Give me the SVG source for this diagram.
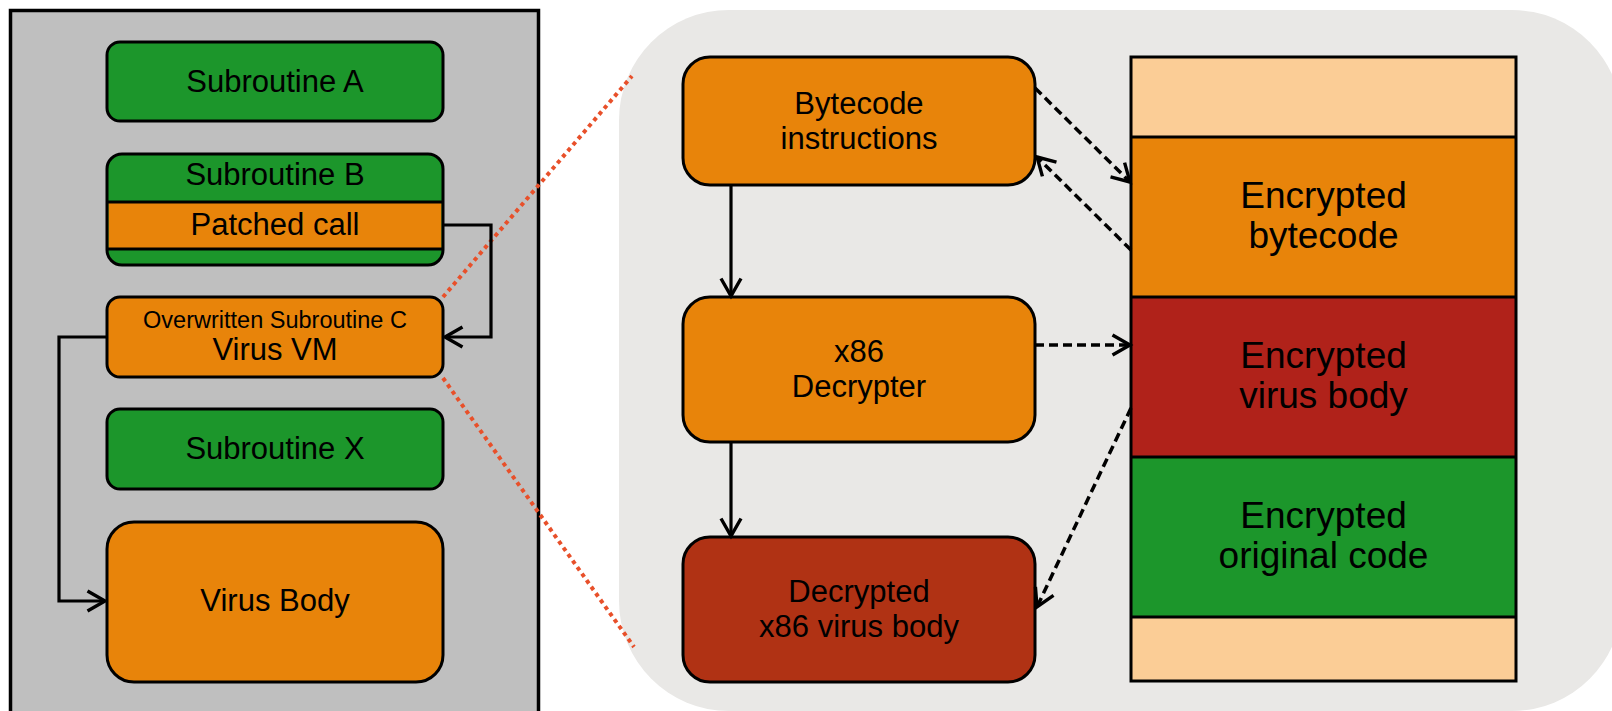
<svg xmlns="http://www.w3.org/2000/svg" width="1612" height="711" viewBox="0 0 1612 711">
<style>
  text { font-family: "Liberation Sans", Arial, sans-serif; fill: #000; text-anchor: middle; }
  .t31 { font-size: 31px; }
  .t37 { font-size: 37px; }
  .t24 { font-size: 23.5px; }
  .box { stroke: #000; stroke-width: 3; }
  .green { fill: #1c962b; }
  .orange { fill: #e8840a; }
  .red { fill: #b0221a; }
  .dred { fill: #b03214; }
  .peach { fill: #fbcd96; }
  .solid { fill: none; stroke: #000; stroke-width: 3.2; }
  .dash { fill: none; stroke: #000; stroke-width: 3.5; stroke-dasharray: 9 5; }
  .dot { fill: none; stroke: #e8502a; stroke-width: 4; stroke-dasharray: 4 4; }
</style>
<defs>
  <marker id="arr" markerUnits="userSpaceOnUse" markerWidth="24" markerHeight="26" refX="19" refY="12" orient="auto">
    <path d="M1.5,2 L19,12 L1.5,22" fill="none" stroke="#000" stroke-width="3.4"/>
  </marker>
</defs>

<g id="left-panel">
  <rect x="10.5" y="10.5" width="528" height="720" fill="#bfbfbf" stroke="#000" stroke-width="3.5"/>
</g>
<g id="right-panel">
  <rect x="619" y="10" width="1003" height="701" rx="110" ry="110" fill="#e9e8e6"/>
</g>

<g id="zoom-lines">
  <line class="dot" x1="443" y1="297" x2="632" y2="76"/>
  <line class="dot" x1="443" y1="378" x2="634" y2="647"/>
</g>

<g id="subroutine-a">
  <rect class="box green" x="107" y="42" width="336" height="79" rx="13"/>
  <text class="t31" x="275" y="92">Subroutine A</text>
</g>
<g id="subroutine-b">
  <rect class="green" x="107" y="154" width="336" height="111" rx="15"/>
  <rect class="orange" x="108.5" y="202" width="333" height="47"/>
  <line x1="107" y1="202" x2="443" y2="202" stroke="#000" stroke-width="3"/>
  <line x1="107" y1="249" x2="443" y2="249" stroke="#000" stroke-width="3"/>
  <rect x="107" y="154" width="336" height="111" rx="15" fill="none" stroke="#000" stroke-width="3"/>
  <text class="t31" x="275" y="185">Subroutine B</text>
  <text class="t31" x="275" y="235">Patched call</text>
</g>
<g id="virus-vm">
  <rect class="box orange" x="107" y="297" width="336" height="80" rx="13"/>
  <text class="t24" x="275" y="328">Overwritten Subroutine C</text>
  <text class="t31" x="275" y="360">Virus VM</text>
</g>
<g id="subroutine-x">
  <rect class="box green" x="107" y="409" width="336" height="80" rx="13"/>
  <text class="t31" x="275" y="459">Subroutine X</text>
</g>
<g id="virus-body">
  <rect class="box orange" x="107" y="522" width="336" height="160" rx="27"/>
  <text class="t31" x="275" y="611">Virus Body</text>
</g>

<g id="bytecode-instructions">
  <rect class="box orange" x="683" y="57" width="352" height="128" rx="27"/>
  <text class="t31" x="859" y="114">Bytecode</text>
  <text class="t31" x="859" y="149">instructions</text>
</g>
<g id="x86-decrypter">
  <rect class="box orange" x="683" y="297" width="352" height="145" rx="27"/>
  <text class="t31" x="859" y="362">x86</text>
  <text class="t31" x="859" y="397">Decrypter</text>
</g>
<g id="decrypted-body">
  <rect class="box dred" x="683" y="537" width="352" height="145" rx="27"/>
  <text class="t31" x="859" y="602">Decrypted</text>
  <text class="t31" x="859" y="637">x86 virus body</text>
</g>

<g id="memory-stack">
  <rect class="peach" x="1131" y="57" width="385" height="80"/>
  <rect class="orange" x="1131" y="137" width="385" height="160"/>
  <rect class="red" x="1131" y="297" width="385" height="160"/>
  <rect class="green" x="1131" y="457" width="385" height="160"/>
  <rect class="peach" x="1131" y="617" width="385" height="64"/>
  <g stroke="#000" stroke-width="3">
    <line x1="1131" y1="137" x2="1516" y2="137"/>
    <line x1="1131" y1="297" x2="1516" y2="297"/>
    <line x1="1131" y1="457" x2="1516" y2="457"/>
    <line x1="1131" y1="617" x2="1516" y2="617"/>
  </g>
  <rect x="1131" y="57" width="385" height="624" fill="none" stroke="#000" stroke-width="3"/>
  <text class="t37" x="1323.5" y="208">Encrypted</text>
  <text class="t37" x="1323.5" y="248">bytecode</text>
  <text class="t37" x="1323.5" y="368">Encrypted</text>
  <text class="t37" x="1323.5" y="408">virus body</text>
  <text class="t37" x="1323.5" y="528">Encrypted</text>
  <text class="t37" x="1323.5" y="568">original code</text>
</g>

<g id="connectors">
  <polyline class="solid" points="443,225 491,225 491,337 445,337" marker-end="url(#arr)"/>
  <polyline class="solid" points="107,337 59,337 59,601 105,601" marker-end="url(#arr)"/>
  <line class="solid" x1="731" y1="185" x2="731" y2="296" marker-end="url(#arr)"/>
  <line class="solid" x1="731" y1="442" x2="731" y2="536" marker-end="url(#arr)"/>
  <line class="dash" x1="1035" y1="88" x2="1130" y2="182" marker-end="url(#arr)"/>
  <line class="dash" x1="1131" y1="250" x2="1037" y2="157" marker-end="url(#arr)"/>
  <line class="dash" x1="1035" y1="345" x2="1130" y2="345" marker-end="url(#arr)"/>
  <line class="dash" x1="1131" y1="408" x2="1037" y2="607" marker-end="url(#arr)"/>
</g>
</svg>
